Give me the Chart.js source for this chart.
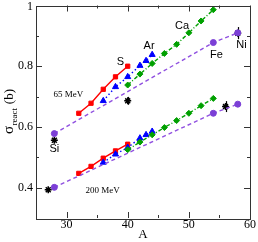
<!DOCTYPE html>
<html>
<head>
<meta charset="utf-8">
<script src="https://cdn.jsdelivr.net/npm/chart.js@4.4.1/dist/chart.umd.min.js"></script>
<style>
  html, body { margin: 0; padding: 0; background: #fff; }
  #wrap { width: 258px; height: 242px; position: relative; }
</style>
</head>
<body>
<div id="wrap"><canvas id="c"></canvas></div>
<script>
// mass numbers of the isotope chains
var sA  = [32, 34, 36, 38, 40];
var arA = [36, 38, 40, 42, 43, 44];
var caA = [40, 42, 44, 46, 48, 50, 52, 54];
var fitA = [28, 54, 58];

// reaction cross sections (b), 65 MeV
var s65  = [0.645, 0.678, 0.724, 0.765, 0.800];
var ar65 = [0.686, 0.732, 0.765, 0.802, 0.818, 0.838];
var ca65 = [0.738, 0.774, 0.809, 0.842, 0.872, 0.910, 0.949, 0.986];
var fit65 = [0.578, 0.878, 0.910];

// reaction cross sections (b), 200 MeV
var s200  = [0.447, 0.470, 0.497, 0.521, 0.543];
var ar200 = [0.483, 0.510, 0.532, 0.563, 0.574, 0.585];
var ca200 = [0.525, 0.550, 0.574, 0.598, 0.621, 0.645, 0.670, 0.694];
var fit200 = [0.401, 0.645, 0.675];

// experimental points
var exp65A = [28, 40, 58];
var exp65  = [0.556, 0.686, 0.909];
var exp65Err = [0.008, 0.013, 0.02];
var exp200A = [27, 56];
var exp200  = [0.393, 0.667];
var exp200Err = [0.004, 0.018];

var xTicks = [30, 40, 50, 60];
var xMinor = [35, 45, 55];
var yTicks = [0.4, 0.6, 0.8, 1.0];
var yMinor = [0.5, 0.7, 0.9];

// text labels [text, A, sigma, font]
var labels = [
  ['S', 38.8, 0.814, 'sans'], ['Ar', 43.5, 0.866, 'sans'], ['Ca', 48.9, 0.931, 'sans'],
  ['Fe', 54.5, 0.838, 'sans'], ['Ni', 58.6, 0.869, 'sans'], ['Si', 28, 0.527, 'sans'],
  ['65 MeV', 30.3, 0.707, 'serif'], ['200 MeV', 35.9, 0.39, 'serif']
];

var RED = '#ff0000', BLUE = '#0000ff', GREEN = '#00a000', PURPLE = '#7b3fd6', PURPLE_LINE = '#9050e0';

function pts(xs, ys) {
  return xs.map(function(x, i) { return {x: x, y: ys[i]}; });
}

function series(xs, ys, color, lineColor, style, radius, dash) {
  return {
    data: pts(xs, ys),
    showLine: true,
    borderColor: lineColor,
    backgroundColor: color,
    pointBorderColor: color,
    pointBackgroundColor: color,
    pointStyle: style,
    pointRadius: radius,
    pointBorderWidth: 1,
    borderWidth: 1.4,
    borderDash: dash
  };
}

function expSet(xs, ys, errs) {
  return {
    data: pts(xs, ys),
    errors: errs,
    showLine: false,
    pointStyle: 'star',
    pointRadius: 3.5,
    pointBorderWidth: 1.5,
    pointBorderColor: '#000',
    pointBackgroundColor: '#000'
  };
}

var datasets = [
  series(fitA, fit65, PURPLE, PURPLE_LINE, 'circle', 3, [4, 3]),
  series(fitA, fit200, PURPLE, PURPLE_LINE, 'circle', 3, [4, 3]),
  series(caA, ca65, GREEN, GREEN, 'rectRot', 3, [4, 2, 1, 2]),
  series(caA, ca200, GREEN, GREEN, 'rectRot', 3, [4, 2, 1, 2]),
  series(arA, ar65, BLUE, BLUE, 'triangle', 3.5, [1.5, 2.5]),
  series(arA, ar200, BLUE, BLUE, 'triangle', 3.5, [1.5, 2.5]),
  series(sA, s65, RED, RED, 'rect', 3, []),
  series(sA, s200, RED, RED, 'rect', 3, []),
  expSet(exp65A, exp65, exp65Err),
  expSet(exp200A, exp200, exp200Err)
];

// inward ticks on all four sides, frame, axis text, error bars, labels
var decorations = {
  id: 'decorations',
  beforeDatasetsDraw: function(chart) {
    var ctx = chart.ctx, xs = chart.scales.x, ys = chart.scales.y;
    ctx.save();
    ctx.strokeStyle = '#000';
    ctx.lineWidth = 1.2;
    chart.data.datasets.forEach(function(ds) {
      if (!ds.errors) return;
      ds.data.forEach(function(p, i) {
        var px = Math.round(xs.getPixelForValue(p.x)) + 0.5;
        ctx.beginPath();
        ctx.moveTo(px, ys.getPixelForValue(p.y - ds.errors[i]));
        ctx.lineTo(px, ys.getPixelForValue(p.y + ds.errors[i]));
        ctx.stroke();
      });
    });
    ctx.restore();
  },
  afterDraw: function(chart) {
    var ctx = chart.ctx, a = chart.chartArea, xs = chart.scales.x, ys = chart.scales.y;
    ctx.save();
    ctx.strokeStyle = '#333';
    ctx.lineWidth = 1;
    ctx.strokeRect(Math.round(a.left) + 0.5, Math.round(a.top) + 0.5,
                   Math.round(a.right - a.left), Math.round(a.bottom - a.top));
    ctx.beginPath();
    function xt(v, len) {
      var px = Math.round(xs.getPixelForValue(v)) + 0.5;
      ctx.moveTo(px, a.bottom); ctx.lineTo(px, a.bottom - len);
      ctx.moveTo(px, a.top); ctx.lineTo(px, a.top + len);
    }
    function yt(v, len) {
      var py = Math.round(ys.getPixelForValue(v)) + 0.5;
      ctx.moveTo(a.left, py); ctx.lineTo(a.left + len, py);
      ctx.moveTo(a.right, py); ctx.lineTo(a.right - len, py);
    }
    xTicks.forEach(function(v) { xt(v, 6); });
    xMinor.forEach(function(v) { xt(v, 3); });
    yTicks.forEach(function(v) { yt(v, 6); });
    yMinor.forEach(function(v) { yt(v, 3); });
    ctx.stroke();

    ctx.fillStyle = '#000';
    // tick labels
    ctx.font = '12px "Liberation Serif"';
    ctx.textBaseline = 'middle';
    ctx.textAlign = 'right';
    yTicks.forEach(function(v) {
      ctx.fillText(v === 1 ? '1' : v.toFixed(1), a.left - 3, Math.max(ys.getPixelForValue(v), 7));
    });
    ctx.textAlign = 'center';
    xTicks.forEach(function(v) {
      ctx.fillText(String(v), xs.getPixelForValue(v), a.bottom + 7);
    });
    ctx.font = '13px "Liberation Serif"';
    ctx.fillText('A', (a.left + a.right) / 2, 235);

    labels.forEach(function(l) {
      ctx.font = l[3] === 'serif' ? '9px "Liberation Serif"' : '11px "Liberation Sans"';
      ctx.fillText(l[0], xs.getPixelForValue(l[1]), ys.getPixelForValue(l[2]));
    });

    // y axis title: sigma_react (b)
    ctx.translate(13, 134);
    ctx.rotate(-Math.PI / 2);
    ctx.textAlign = 'left';
    ctx.textBaseline = 'alphabetic';
    ctx.font = '15px "Liberation Serif"';
    ctx.fillText('σ', 0, 0);
    var w = ctx.measureText('σ').width;
    ctx.font = '9px "Liberation Serif"';
    ctx.fillText('react', w + 0.5, 4);
    w += ctx.measureText('react').width + 1;
    ctx.font = '13px "Liberation Serif"';
    ctx.fillText(' (b)', w, 0);
    ctx.restore();
  }
};

new Chart(document.getElementById('c'), {
  type: 'scatter',
  data: { datasets: datasets },
  plugins: [decorations],
  options: {
    responsive: true,
    maintainAspectRatio: false,
    animation: false,
    layout: { padding: { top: 5, right: 8, left: 0, bottom: 0 } },
    plugins: { legend: { display: false }, tooltip: { enabled: false } },
    scales: {
      x: {
        type: 'linear', min: 25, max: 60,
        afterFit: function(s) { s.height = 24; },
        grid: { display: false },
        border: { display: false },
        ticks: { display: false }
      },
      y: {
        type: 'linear', min: 0.3, max: 1.0,
        afterFit: function(s) { s.width = 36; },
        grid: { display: false },
        border: { display: false },
        ticks: { display: false }
      }
    }
  }
});
</script>
</body>
</html>
